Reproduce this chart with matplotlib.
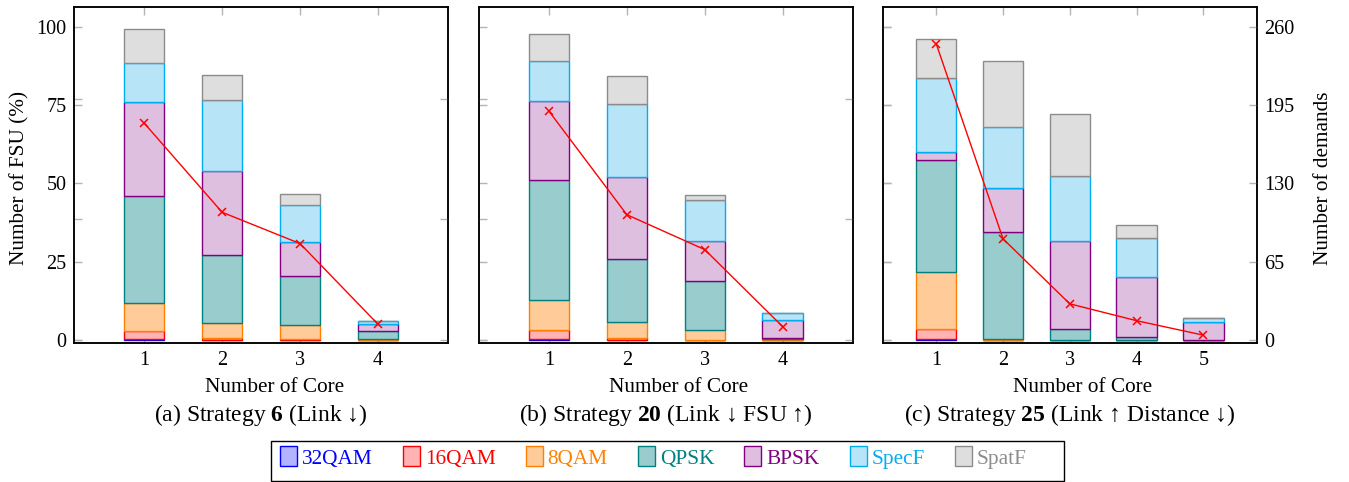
import numpy as np
import matplotlib
matplotlib.use("Agg")
import matplotlib.pyplot as plt
from matplotlib.patches import Patch, Rectangle

plt.rcParams["font.family"] = ["Liberation Serif", "DejaVu Serif"]
plt.rcParams["mathtext.fontset"] = "custom"
plt.rcParams["mathtext.rm"] = "Liberation Serif"
plt.rcParams["mathtext.bf"] = "Liberation Serif:bold"

# ---- data: share of FSU (%) per modulation format, per number of cores ----
modulations = ["32QAM", "16QAM", "8QAM", "QPSK", "BPSK", "SpecF", "SpatF"]

# Strategy 6 (Link down)
cores_s6 = [1, 2, 3, 4]
s6_32qam = [0.4, 0.1, 0.0, 0.0]
s6_16qam = [2.6, 0.5, 0.3, 0.0]
s6_8qam = [8.9, 4.7, 4.4, 0.3]
s6_qpsk = [34.1, 21.9, 15.6, 2.5]
s6_bpsk = [29.9, 26.9, 10.9, 2.3]
s6_specf = [12.4, 22.4, 11.9, 0.8]
s6_spatf = [10.9, 8.0, 3.6, 0.0]
s6_demands = [180, 106, 80, 13]

# Strategy 20 (Link down, FSU up)
cores_s20 = [1, 2, 3, 4]
s20_32qam = [0.4, 0.1, 0.0, 0.0]
s20_16qam = [2.7, 0.4, 0.0, 0.0]
s20_8qam = [9.6, 5.3, 3.2, 0.3]
s20_qpsk = [38.3, 19.9, 15.7, 0.4]
s20_bpsk = [25.3, 26.3, 12.6, 5.8]
s20_specf = [12.6, 23.3, 13.1, 2.0]
s20_spatf = [8.7, 9.1, 1.7, 0.0]
s20_demands = [190, 104, 75, 11]

# Strategy 25 (Link up, Distance down)
cores_s25 = [1, 2, 3, 4, 5]
s25_32qam = [0.4, 0.0, 0.0, 0.0, 0.0]
s25_16qam = [3.2, 0.0, 0.0, 0.0, 0.0]
s25_8qam = [18.0, 0.4, 0.0, 0.0, 0.0]
s25_qpsk = [35.9, 34.0, 3.4, 0.9, 0.0]
s25_bpsk = [2.5, 14.0, 28.3, 19.3, 5.6]
s25_specf = [23.7, 19.6, 20.5, 12.5, 1.3]
s25_spatf = [12.4, 21.0, 19.9, 4.1, 0.0]
s25_demands = [246, 84, 30, 16, 4]

fsu_ticks = [0, 25, 50, 75, 100]
demand_ticks_plain = [0, 100, 200]
demand_ticks_c = [0, 65, 130, 195, 260]

# ---- styles ----
edge_colors = ["#0000ff", "#ff0000", "#ff8000", "#008080", "#800080", "#00aeef", "#8c8c8c"]
fill_colors = ["#b3b3ff", "#ffb3b3", "#ffcc99", "#99cccc", "#dfbfdf", "#b8e4f8", "#dedede"]
label_colors = ["#0000ff", "#ff0000", "#ff8000", "#008080", "#800080", "#00aeef", "#8c8c8c"]

FS_TICK = 14.5
FS_LABEL = 15.3
FS_CAP = 17.0
TICK_COLOR = "#b4b4b4"
W, H = 1349, 482

fig = plt.figure(figsize=(W / 100, H / 100), dpi=100)


def fx(px):
    return px / W


def fy(py):
    return 1 - py / H


panel_left_px = [74.0, 478.7, 882.7]
panel_w_px = 374.2
ax_top_px, ax_bot_px = 7.3, 343.3

ymin_pct, ymax_pct = -1.06, 106.2
demand_max = 260.0

panels = [
    dict(cores=cores_s6,
         series=[s6_32qam, s6_16qam, s6_8qam, s6_qpsk, s6_bpsk, s6_specf, s6_spatf],
         demands=s6_demands, xlim=(0.1, 4.9),
         caption=r"(a) Strategy $\mathbf{6}$ (Link ↓)"),
    dict(cores=cores_s20,
         series=[s20_32qam, s20_16qam, s20_8qam, s20_qpsk, s20_bpsk, s20_specf, s20_spatf],
         demands=s20_demands, xlim=(0.1, 4.9),
         caption=r"(b) Strategy $\mathbf{20}$ (Link ↓ FSU ↑)"),
    dict(cores=cores_s25,
         series=[s25_32qam, s25_16qam, s25_8qam, s25_qpsk, s25_bpsk, s25_specf, s25_spatf],
         demands=s25_demands, xlim=(0.2, 5.8),
         caption=r"(c) Strategy $\mathbf{25}$ (Link ↑ Distance ↓)"),
]

bar_px = 40.5

for i, p in enumerate(panels):
    left_px = panel_left_px[i]
    ax = fig.add_axes([fx(left_px), fy(ax_bot_px), panel_w_px / W,
                       (ax_bot_px - ax_top_px) / H])
    x = np.array(p["cores"], dtype=float)
    xr = p["xlim"][1] - p["xlim"][0]
    width = bar_px / panel_w_px * xr

    base = np.zeros(len(x))
    for vals, fc, ec in zip(p["series"], fill_colors, edge_colors):
        v = np.array(vals, dtype=float)
        ax.bar(x, v, width=width, bottom=base, color=fc, edgecolor=ec,
               linewidth=1.0, zorder=2)
        base = base + v

    ax.set_xlim(*p["xlim"])
    ax.set_ylim(ymin_pct, ymax_pct)
    ax.set_xticks(p["cores"])
    ax.set_yticks(fsu_ticks)
    ax.tick_params(axis="both", direction="in", length=6, width=1.0,
                   color=TICK_COLOR, labelsize=FS_TICK, pad=5.5,
                   top=True, right=True, bottom=True, left=True)
    if i > 0:
        ax.tick_params(labelleft=False)
    for s in ax.spines.values():
        s.set_linewidth(1.1)

    tw = ax.twinx()
    tw.set_ylim(ymin_pct / 100 * demand_max, ymax_pct / 100 * demand_max)
    tw.plot(x, p["demands"], color="red", linewidth=1.0, marker="x",
            markersize=6, markeredgewidth=1.1, zorder=3)
    if i == 2:
        tw.set_yticks(demand_ticks_c)
        tw.tick_params(axis="y", direction="in", length=6, width=1.0,
                       color=TICK_COLOR, labelsize=FS_TICK, pad=5.5,
                       left=True, right=True, labelright=True)
    else:
        tw.set_yticks(demand_ticks_plain)
        tw.tick_params(axis="y", direction="in", length=6, width=1.0,
                       color=TICK_COLOR, left=True, right=True,
                       labelright=False, labelleft=False)
    for s in tw.spines.values():
        s.set_linewidth(1.1)

    center_px = left_px + panel_w_px / 2
    fig.text(fx(center_px + 13), fy(387.5), "Number of Core", ha="center",
             va="center", fontsize=FS_LABEL)
    fig.text(fx(center_px), fy(415), p["caption"], ha="center",
             va="center", fontsize=FS_CAP)

fig.text(fx(20), fy(178), "Number of FSU (%)", rotation=90, ha="center",
         va="center", fontsize=FS_LABEL)
fig.text(fx(1324), fy(178), "Number of demands", rotation=90, ha="center",
         va="center", fontsize=FS_LABEL)

# legend with a hand-placed frame
fig.patches.append(Rectangle((fx(271), fy(481)), fx(1064) - fx(271),
                             fy(440.5) - fy(481), transform=fig.transFigure,
                             facecolor="white", edgecolor="black",
                             linewidth=1.0, zorder=0))
handles = [Patch(facecolor=fc, edgecolor=ec, linewidth=1.0)
           for fc, ec in zip(fill_colors, edge_colors)]
leg = fig.legend(handles, modulations, loc="center left",
                 bbox_to_anchor=(fx(280), fy(457.5)), ncol=7,
                 frameon=False, fontsize=FS_LABEL, handlelength=0.8,
                 handleheight=1.08, handletextpad=0.24, columnspacing=1.41,
                 borderpad=0.0, borderaxespad=0)
for t, c in zip(leg.get_texts(), label_colors):
    t.set_color(c)

fig.savefig("out.png", dpi=100)
